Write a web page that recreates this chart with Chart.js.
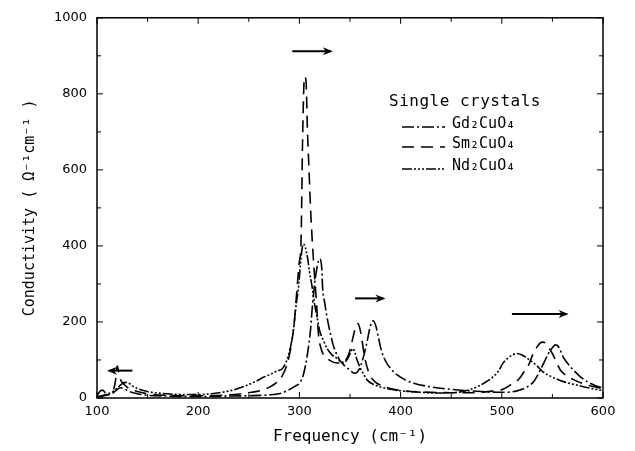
<!DOCTYPE html>
<html><head><meta charset="utf-8">
<script src="https://cdn.jsdelivr.net/npm/chart.js@4"></script>
<style>html,body{margin:0;padding:0;background:#fff}canvas{display:block}</style>
</head><body>
<canvas id="c" width="635" height="451"></canvas>
<script>
const legendTitle = 'Single crystals';
const seriesNames = ['Gd₂CuO₄', 'Sm₂CuO₄', 'Nd₂CuO₄'];
const xTitle = 'Frequency (cm⁻¹)';
const yTitle = 'Conductivity ( Ω⁻¹cm⁻¹ )';
const xTickValues = [100, 200, 300, 400, 500, 600];
const yTickValues = [0, 200, 400, 600, 800, 1000];

const gdFreq = [100,102,104,106,108,111,115,119,123,127,132,140,150,170,200,230,250,270,280,287,295,300,304,308,311,313,316,319,320,322,323,325,328,331,333,336,340,345,350,355,359,363,367,370,373,376,378,381,385,390,397,405,413,430,457,480,500,510,518,525,532,538,542,546,550,553,556,561,566,571,578,585,592,600];
const gdCond = [6,14,20,20,14,9,12,20,27,24,17,11,7,5,4,5,6,8,11,18,30,39,62,117,180,247,320,362,366,345,288,250,203,165,143,120,99,84,73,65,75,105,150,188,203,185,160,125,98,78,60,47,39,29,21,17,15,16,21,29,45,73,95,117,132,140,135,106,88,73,55,42,33,26];

const smFreq = [100,105,110,114,117,119,120,121,123,126,130,135,140,150,170,200,230,250,262,270,277,283,288,292,295,298,300,301.5,303.3,305,306.5,308,309.5,311,313,315,317,318.5,322,326,330,337,343,347,350,353,356,358,360,362,364,367,370,375,382,390,400,420,450,470,490,500,510,517,523,527,531,535,538,541,544,547,550,553,558,565,572,580,590,600];
const smCond = [3,5,8,14,28,60,85,75,50,38,28,21,17,11,7,6,8,14,20,28,40,58,90,140,200,300,360,400,700,845,835,700,600,500,400,320,247,177,125,108,99,92,95,105,125,160,190,196,180,150,115,80,58,42,32,25,20,16,14,14,18,22,37,50,73,90,117,135,145,147,142,130,117,100,73,57,47,38,30,25];

const ndFreq = [100,105,110,115,120,124,128,132,136,140,150,160,175,200,215,233,245,257,265,272,277,284,290,294,297,299,301,302.5,304,306,308,310,313,315,318,320,324,327,332,337,341,344,348,351,353,355,357,360,364,367,373,380,390,400,420,440,459,467,475,483,491,497,501,506,511,515,520,528,535,541,550,557,565,574,585,597,600];
const ndCond = [3,6,10,16,26,36,41,38,30,25,17,13,10,9,12,20,30,44,55,63,70,80,120,177,250,288,350,390,405,395,370,332,285,247,205,177,150,132,114,104,96,93,105,122,130,118,100,80,60,47,36,29,23,19,15,13,16,21,29,40,55,72,91,105,114,117,113,99,84,68,55,47,40,34,27,21,20];

const shiftArrows = [
  {from:[135,72], to:[110,72]},
  {from:[293,912], to:[333,912]},
  {from:[355,262], to:[385,262]},
  {from:[510,221], to:[566,221]}
];

const dashes = [[12,3,2,3],[12,7],[10,2,2,2,2,2,2,2]];
const freqs = [gdFreq, smFreq, ndFreq];
const conds = [gdCond, smCond, ndCond];

const datasets = seriesNames.map((name,i)=>({
  label: name,
  data: freqs[i].map((f,j)=>({x:f, y:conds[i][j]})),
  borderColor: '#000',
  borderWidth: 1.6,
  borderDash: dashes[i],
  pointRadius: 0,
  fill: false,
  cubicInterpolationMode: 'monotone',
  borderJoinStyle: 'round'
}));

const frameAndExtras = {
  id: 'frameAndExtras',
  afterDatasetsDraw(chart) {
    const ctx = chart.ctx;
    const a = chart.chartArea;
    const xs = chart.scales.x, ys = chart.scales.y;
    ctx.save();
    ctx.setLineDash([]);
    ctx.strokeStyle = '#000';
    ctx.lineWidth = 1.5;
    ctx.strokeRect(a.left, a.top, a.right - a.left, a.bottom - a.top);
    ctx.lineWidth = 1;
    for (let v = 100; v <= 600; v += 50) {
      const p = xs.getPixelForValue(v);
      const L = (v % 100 === 0) ? 6 : 4;
      ctx.beginPath();
      ctx.moveTo(p, a.bottom); ctx.lineTo(p, a.bottom - L);
      ctx.moveTo(p, a.top); ctx.lineTo(p, a.top + L);
      ctx.stroke();
    }
    for (let v = 0; v <= 1000; v += 100) {
      const p = ys.getPixelForValue(v);
      const L = (v % 200 === 0) ? 6 : 4;
      ctx.beginPath();
      ctx.moveTo(a.left, p); ctx.lineTo(a.left + L, p);
      ctx.moveTo(a.right, p); ctx.lineTo(a.right - L, p);
      ctx.stroke();
    }
    ctx.lineWidth = 2;
    shiftArrows.forEach(ar => {
      const x1 = xs.getPixelForValue(ar.from[0]), y1 = ys.getPixelForValue(ar.from[1]);
      const x2 = xs.getPixelForValue(ar.to[0]), y2 = ys.getPixelForValue(ar.to[1]);
      const dir = Math.sign(x2 - x1);
      ctx.beginPath();
      ctx.moveTo(x1, y1); ctx.lineTo(x2 - dir*2, y2);
      ctx.stroke();
      ctx.beginPath();
      ctx.moveTo(x2, y2);
      ctx.lineTo(x2 - dir*10, y2 - 4);
      ctx.lineTo(x2 - dir*7, y2);
      ctx.lineTo(x2 - dir*10, y2 + 4);
      ctx.closePath();
      ctx.fillStyle = '#000';
      ctx.fill();
    });
    ctx.fillStyle = '#000';
    ctx.textBaseline = 'alphabetic';
    ctx.textAlign = 'left';
    ctx.font = '16px "DejaVu Sans Mono"';
    ctx.letterSpacing = '0.5px';
    ctx.fillText(legendTitle, 389, 106);
    ctx.font = '15px "DejaVu Sans Mono"';
    ctx.letterSpacing = '0px';
    const rows = [128, 148, 170];
    seriesNames.forEach((n,i)=>{
      ctx.lineWidth = 1.6;
      ctx.setLineDash(dashes[i]);
      ctx.beginPath();
      ctx.moveTo(402, rows[i]-1); ctx.lineTo(445, rows[i]-1);
      ctx.stroke();
      ctx.setLineDash([]);
      ctx.fillText(n, 452, rows[i]);
    });
    ctx.restore();
  }
};

new Chart(document.getElementById('c'), {
  type: 'line',
  data: { datasets },
  plugins: [frameAndExtras],
  options: {
    responsive: false,
    animation: false,
    layout: { padding: { top: 13, right: 32, left: 0, bottom: 0 } },
    plugins: { legend: { display: false }, tooltip: { enabled: false } },
    scales: {
      x: {
        type: 'linear', min: 100, max: 600,
        afterFit(s) { s.height = 53; },
        afterBuildTicks(s) { s.ticks = xTickValues.map(v => ({value: v})); },
        grid: { display: false, drawTicks: false },
        border: { display: false },
        ticks: { color: '#000', padding: 6, callback: v => String(v), font: { family: 'DejaVu Sans', size: 13 } },
        title: { display: true, text: xTitle, color: '#000', padding: { top: 0, bottom: 5 }, font: { family: 'DejaVu Sans Mono', size: 16 } }
      },
      y: {
        type: 'linear', min: 0, max: 1000,
        afterFit(s) { s.width = 97; },
        afterBuildTicks(s) { s.ticks = yTickValues.map(v => ({value: v})); },
        grid: { display: false, drawTicks: false },
        border: { display: false },
        ticks: { color: '#000', padding: 10, callback: v => String(v), font: { family: 'DejaVu Sans', size: 13 } },
        title: { display: true, text: yTitle, color: '#000', padding: { top: 21, bottom: 0 }, font: { family: 'DejaVu Sans Mono', size: 15 } }
      }
    }
  }
});
</script>
</body></html>
